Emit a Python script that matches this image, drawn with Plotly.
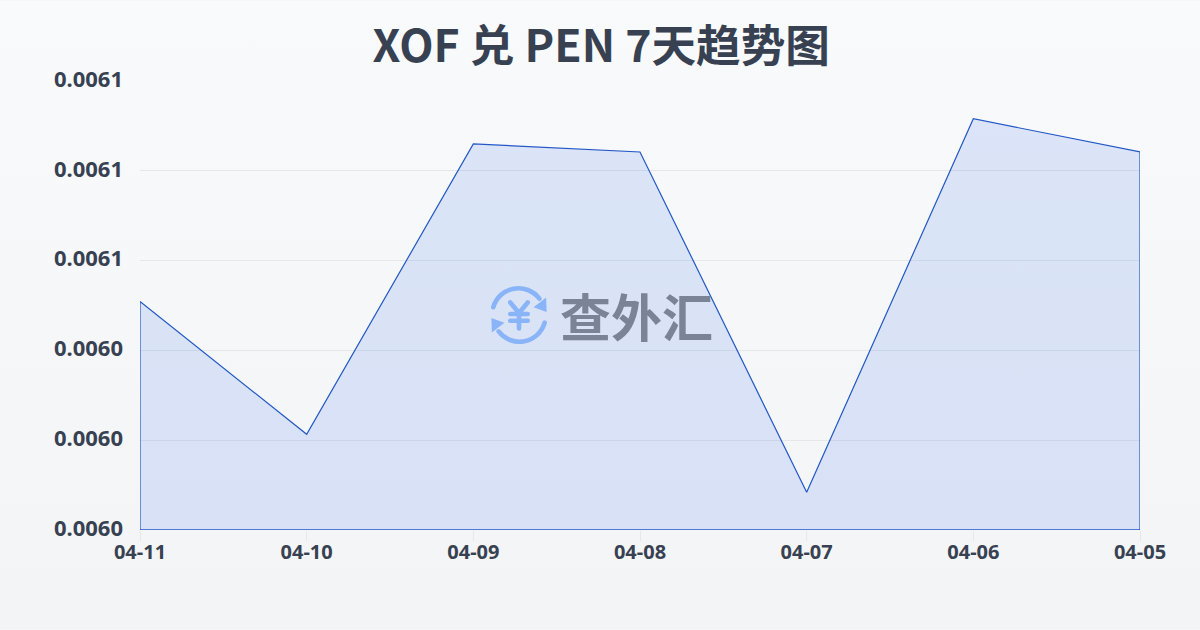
import base64
import plotly.graph_objects as go

title = "XOF 兑 PEN 7天趋势图"
watermark = "查外汇"
dates = ["04-11", "04-10", "04-09", "04-08", "04-07", "04-06", "04-05"]
rates = [0.0060509, 0.0060213, 0.0060860, 0.0060842, 0.0060084, 0.0060916, 0.0060842]
y_min = 0.00600
y_max = 0.00610
y_ticks = [0.00600, 0.00602, 0.00604, 0.00606, 0.00608, 0.00610]

INK = "#374151"


def svg_uri(svg):
    return "data:image/svg+xml;base64," + base64.b64encode(svg.encode("utf-8")).decode()


bg_svg = (
    '<svg xmlns="http://www.w3.org/2000/svg" width="1200" height="630" viewBox="0 0 1200 630" preserveAspectRatio="none">'
    '<defs><linearGradient id="g" x1="0" y1="0" x2="0" y2="1">'
    '<stop offset="0" stop-color="#f8fafc"/><stop offset="1" stop-color="#f3f4f6"/></linearGradient></defs>'
    '<rect width="1200" height="630" fill="url(#g)"/></svg>'
)

logo_svg = (
    '<svg xmlns="http://www.w3.org/2000/svg" width="64" height="64" viewBox="0 0 64 64">'
    '<g fill="none" stroke="#8ab4f8" stroke-width="4.8" stroke-linecap="round" stroke-linejoin="round">'
    '<path d="M5.5 24 A27 27 0 0 1 53 15"/>'
    '<path d="M58.5 40 A27 27 0 0 1 11 49"/>'
    '<path d="M23 19 L32 30 L41 19 M32 30 L32 46 M23 31 L41 31 M23 38 L41 38"/>'
    '</g>'
    '<path d="M60 14 L60.5 29 L47 24 Z" fill="#8ab4f8"/>'
    '<path d="M4 50 L3.5 35 L17 40 Z" fill="#8ab4f8"/>'
    '</svg>'
)

# Plot area: x 140..1140, y 80.5..530.5 in the 1200x630 page
PW, PH = 1000.0, 450.0


def px_x(v):
    return (v - 140) / PW


def px_y(v):
    return (530.5 - v) / PH


fig = go.Figure()
fig.add_trace(go.Scatter(
    x=dates + [dates[-1], dates[0], dates[0]],
    y=rates + [y_min, y_min, rates[0]],
    mode="lines",
    fill="toself",
    line=dict(color="#2257c5", width=1.2),
    fillcolor="rgba(37,99,235,0.135)",
    hoverinfo="skip",
    showlegend=False,
))

fig.update_layout(
    width=1200,
    height=630,
    autosize=False,
    margin=dict(l=140, r=60, t=80.5, b=99.5, pad=0),
    paper_bgcolor="#f6f7f9",
    plot_bgcolor="rgba(0,0,0,0)",
    font=dict(family="Noto Sans, sans-serif", color=INK),
    title=dict(
        text="<b>" + title + "</b>",
        x=0.501,
        xref="container",
        xanchor="center",
        y=1 - 46 / 630,
        yref="container",
        yanchor="middle",
        font=dict(size=44.6, color=INK, family="Noto Sans CJK SC, Noto Sans, sans-serif"),
    ),
    xaxis=dict(
        type="category",
        categoryorder="array",
        categoryarray=dates,
        range=[0, 6],
        showgrid=False,
        zeroline=False,
        showline=False,
        ticks="outside",
        ticklen=10,
        tickwidth=1,
        tickcolor="#e5e7eb",
        ticklabelstandoff=-6,
        tickfont=dict(size=20, color=INK, family="Noto Sans, sans-serif", weight="bold"),
    ),
    yaxis=dict(
        range=[y_min - 1e-8, y_max + 1e-8],
        tickmode="array",
        tickvals=y_ticks,
        ticktext=["%.4f" % v for v in y_ticks],
        showgrid=True,
        gridcolor="#e5e7eb",
        gridwidth=1,
        zeroline=False,
        showline=False,
        ticks="",
        ticklabelstandoff=16,
        ticklabelshift=-2,
        tickfont=dict(size=22, color=INK, family="Noto Sans, sans-serif", weight="bold"),
    ),
    images=[
        dict(source=svg_uri(bg_svg), xref="paper", yref="paper",
             x=px_x(0), y=px_y(0), sizex=1200 / PW, sizey=630 / PH,
             xanchor="left", yanchor="top", sizing="stretch", layer="below"),
        dict(source=svg_uri(logo_svg), xref="paper", yref="paper",
             x=px_x(488), y=px_y(284), sizex=62 / PW, sizey=62 / PH,
             xanchor="left", yanchor="top", sizing="stretch", layer="above"),
    ],
    annotations=[
        dict(text="<b>" + watermark + "</b>", xref="paper", yref="paper",
             x=px_x(636), y=px_y(315), xanchor="center", yanchor="middle",
             showarrow=False,
             font=dict(size=51, color="#7b8496", family="Noto Sans CJK SC, sans-serif")),
    ],
)

fig.write_html("out.html", config={"displayModeBar": False},
               post_script="document.body.style.margin='0';")
